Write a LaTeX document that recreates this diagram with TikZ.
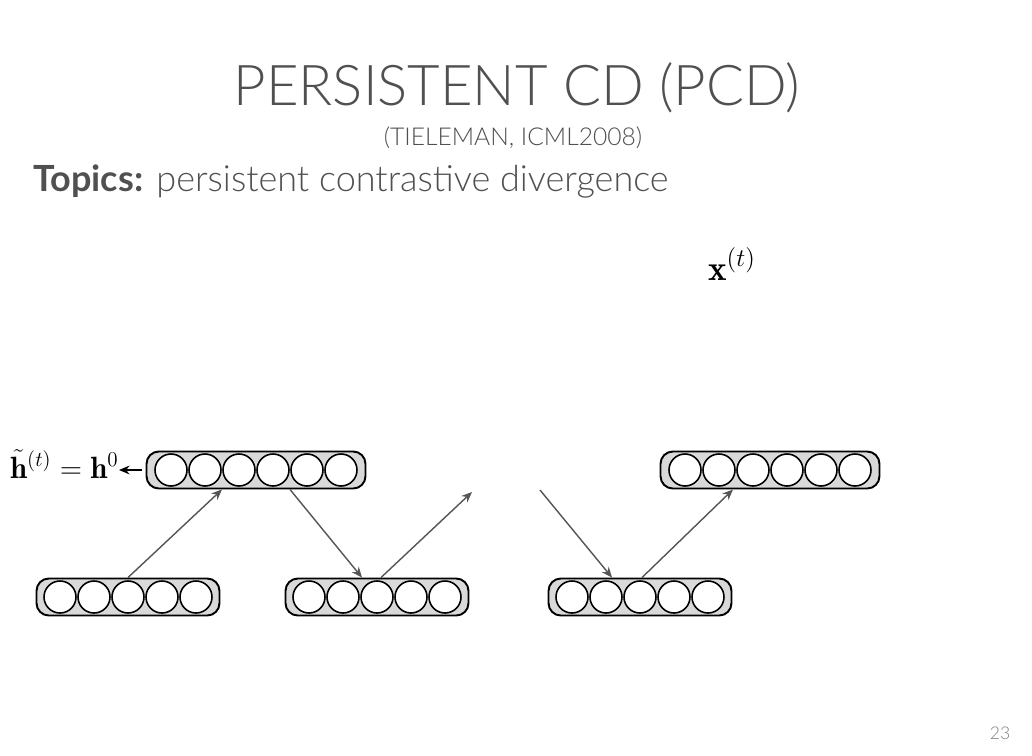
\documentclass[tikz,border=0pt]{standalone}
\usepackage{fontspec}
\usepackage{amsmath,amssymb}
\usepackage{xcolor}
\usetikzlibrary{positioning, arrows.meta, calc}
\newfontfamily\slidefont{Lato Light}
\newfontfamily\slidebold{Lato Bold}
\definecolor{cT}{RGB}{80,80,80}
\definecolor{cA}{RGB}{85,85,85}

\begin{document}
\begin{tikzpicture}[x=0.02cm, y=-0.02cm, >={Stealth[length=6pt, width=5pt]},
    every node/.style={inner sep=0pt},
    layer/.style={draw=black, line width=1.1pt, fill=gray!30, rounded corners=7pt, minimum height=0.74cm},
    unit/.style={circle, draw=black, line width=0.9pt, fill=white, minimum size=0.64cm},
    link/.style={->, draw=cA, fill=cA, line width=0.8pt}]
    \useasboundingbox (0,0) rectangle (1032,755);

    % Heading
    \node[anchor=base, text=cT, font=\slidefont\fontsize{32}{34}\selectfont] (title) at (517,105) {PERSISTENT CD (PCD)};
    \node[anchor=base, text=cT, font=\slidefont\fontsize{14}{16}\selectfont] (cite) at (513,145) {(TIELEMAN, ICML2008)};
    \node[anchor=base west, text=cT, font=\slidefont\fontsize{20.5}{24}\selectfont] (topics) at (33,191) {{\slidebold Topics:} persistent contrastive divergence};
    \node[font=\fontsize{20}{24}\selectfont] (xt) at (732,264) {$\mathbf{x}^{(t)}$};

    % Layers
    \node[layer, minimum width=4.38cm] (h0) at (256,470) {};
    \node[layer, minimum width=3.66cm] (x0) at (128,597) {};
    \node[layer, minimum width=3.66cm] (x1) at (377,597) {};
    \node[layer, minimum width=3.66cm] (x2) at (640,597) {};
    \node[layer, minimum width=4.38cm] (h2) at (770,470) {};
    \foreach \l/\n in {h0/6, x0/5, x1/5, x2/5, h2/6}
        \foreach \i in {1,...,\n}
            \node[unit] at ($(\l)+({(\i-(\n+1)/2)*34},0)$) {};

    % Chain
    \coordinate (gapin) at (472,492);
    \coordinate (gapout) at (540,490);
    \draw[link] (x0.north) -- ($(h0.south)+(-34,0)$);
    \draw[link] ($(h0.south)+(34,0)$) -- ($(x1.north)+(-15,0)$);
    \draw[link] ($(x1.north)+(4,0)$) -- (gapin);
    \draw[link] (gapout) -- ($(x2.north)+(-28,0)$);
    \draw[link] ($(x2.north)+(2,0)$) -- ($(h2.south)+(-37,0)$);

    % Persistent state
    \node[anchor=base east, font=\fontsize{17.5}{21}\selectfont] (htil) at (119,478) {$\tilde{\mathbf{h}}^{(t)}=\mathbf{h}^0$};
    \draw[->, line width=0.8pt, shorten <=2pt] (h0.west) -- (h0.west -| htil.east);

    \node[text=gray, font=\slidefont\fontsize{10}{12}\selectfont] (page) at (1000,733) {23};
\end{tikzpicture}
\end{document}
